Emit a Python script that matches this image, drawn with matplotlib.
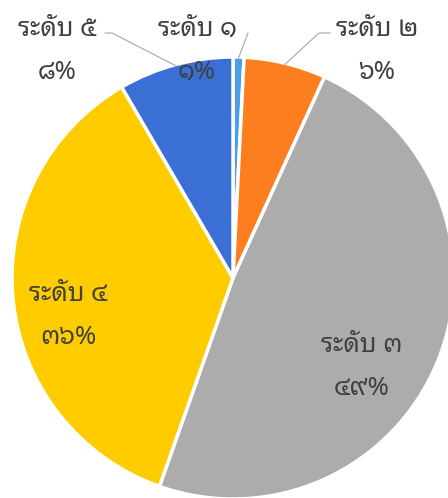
import matplotlib
matplotlib.use('Agg')
import matplotlib.pyplot as plt
import numpy as np

plt.rcParams['font.family'] = ['Noto Sans Thai Looped', 'DejaVu Sans']

labels = ['ระดับ ๑', 'ระดับ ๒', 'ระดับ ๓', 'ระดับ ๔', 'ระดับ ๕']
pct_labels = ['๑%', '๖%', '๔๙%', '๓๖%', '๘%']
values = [0.8, 6.0, 48.6, 36.2, 8.4]
colors = ['#4a9fe8', '#fd7e1e', '#acacac', '#ffcc00', '#3a70d6']

W, H = 448, 498
cx, cy, r = 233, 278, 221   # pie centre / radius in pixels

fig = plt.figure(figsize=(W / 100, H / 100), dpi=100)
ax = fig.add_axes([(cx - r) / W, (H - cy - r) / H, 2 * r / W, 2 * r / H])

wedges, _ = ax.pie(values, colors=colors, startangle=90, counterclock=False,
                   radius=1, center=(0, 0),
                   wedgeprops=dict(edgecolor='white', linewidth=2.5))
ax.set_xlim(-1, 1)
ax.set_ylim(-1, 1)
ax.axis('off')
for w in wedges:
    w.set_clip_on(False)

def px(x, y):
    return ((x - cx) / r, (cy - y) / r)

txt = '#404040'
# label positions (pixels) : centre of two-line block
pos = {0: (197, 51), 1: (377, 51), 2: (362, 367), 3: (68, 316), 4: (57, 51)}
for i, (x, y) in pos.items():
    ax.text(*px(x, y), labels[i] + '\n' + pct_labels[i], ha='center', va='center',
            fontsize=18.5, color=txt, linespacing=1.95, clip_on=False)

# leader lines for outside labels
cum = np.cumsum([0] + values)
tot = cum[-1]
def edge_pt(i):
    a = np.deg2rad(90 - 360 * (cum[i] + values[i] / 2) / tot)
    return (0.995 * np.cos(a), 0.995 * np.sin(a))

leaders = {4: [(105, 33), (112, 33)], 0: [(248, 33)], 1: [(330, 33), (319, 33)]}
for i, pts in leaders.items():
    xs = [px(*p)[0] for p in pts] + [edge_pt(i)[0]]
    ys = [px(*p)[1] for p in pts] + [edge_pt(i)[1]]
    ax.plot(xs, ys, color='#a6a6a6', lw=0.8, clip_on=False)

fig.savefig('out.png')
